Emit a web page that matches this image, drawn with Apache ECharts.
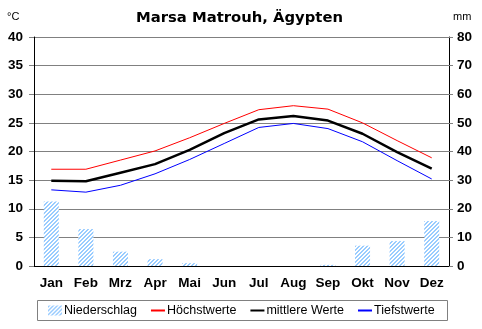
<!DOCTYPE html>
<html><head><meta charset="utf-8">
<script src="https://cdn.jsdelivr.net/npm/echarts@6/dist/echarts.min.js"></script>
<style>html,body{margin:0;padding:0;background:#fff}#c{width:482px;height:329px}</style>
</head><body><div id="c"></div>
<script>
const months = ['Jan','Feb','Mrz','Apr','Mai','Jun','Jul','Aug','Sep','Okt','Nov','Dez'];
const precipitation = [22.5, 12.9, 5.0, 2.4, 1.0, 0, 0, 0, 0.4, 7.1, 8.7, 15.7];
const tempMax = [16.9, 16.9, 18.5, 20.1, 22.4, 24.9, 27.3, 28.0, 27.4, 25.0, 21.9, 18.9];
const tempMean = [14.9, 14.8, 16.3, 17.8, 20.3, 23.2, 25.6, 26.2, 25.4, 23.1, 19.9, 17.0];
const tempMin = [13.3, 12.9, 14.1, 16.1, 18.6, 21.4, 24.2, 24.9, 24.0, 21.7, 18.4, 15.2];

const pc = document.createElement('canvas'); pc.width = 4; pc.height = 4;
const ctx = pc.getContext('2d');
ctx.fillStyle = '#ffffff'; ctx.fillRect(0, 0, 4, 4);
ctx.fillStyle = '#99ccff';
for (let y = 0; y < 4; y++) for (let x = 0; x < 4; x++) if ((x + y) % 4 < 2) ctx.fillRect(x, y, 1, 1);
const hatch = { image: pc, repeat: 'repeat' };

const lbl = { color: '#000', fontFamily: 'Liberation Sans', fontWeight: 'bold', fontSize: 13.5 };
const chart = echarts.init(document.getElementById('c'), null, { renderer: 'canvas' });
chart.setOption({
  animation: false,
  backgroundColor: '#fff',
  title: { text: 'Marsa Matrouh, Ägypten', left: 131, top: 6,
    textStyle: { fontFamily: 'DejaVu Sans', fontWeight: 'bold', fontSize: 14.8, color: '#000' } },
  graphic: [
    { type: 'text', left: 7, top: 11, style: { text: '°C', font: '11px Liberation Sans', fill: '#000' } },
    { type: 'text', left: 453, top: 11, style: { text: 'mm', font: '11px Liberation Sans', fill: '#000' } },
    { type: 'rect', shape: { x: 37.5, y: 300.5, width: 410, height: 20 }, style: { fill: 'none', stroke: '#808080', lineWidth: 1 }, silent: true }
  ],
  grid: { left: 34, right: 33, top: 37, bottom: 63 },
  legend: {
    left: 48, top: 304, padding: 0, itemWidth: 14, itemHeight: 10, itemGap: 13,
    textStyle: { fontFamily: 'Liberation Sans', fontSize: 12.5, color: '#000', padding: [0, 0, 0, -3] },
    itemStyle: { borderWidth: 0 },
    data: [
      { name: 'Niederschlag', icon: 'rect' },
      { name: 'Höchstwerte', itemStyle: { opacity: 0 } },
      { name: 'mittlere Werte', itemStyle: { opacity: 0 } },
      { name: 'Tiefstwerte', itemStyle: { opacity: 0 } }
    ]
  },
  xAxis: {
    type: 'category', data: months,
    axisLine: { lineStyle: { color: '#000', width: 1 } },
    axisTick: { length: 4, lineStyle: { color: '#000' } },
    axisLabel: Object.assign({ margin: 10 }, lbl),
    splitLine: { show: false }
  },
  yAxis: [
    { type: 'value', min: 0, max: 40, interval: 5,
      axisLine: { show: true, lineStyle: { color: '#000' } },
      axisTick: { show: true, length: 5, lineStyle: { color: '#808080' } },
      axisLabel: Object.assign({ margin: 11 }, lbl),
      splitLine: { show: true, lineStyle: { color: '#808080', width: 1 } } },
    { type: 'value', min: 0, max: 80, interval: 10, position: 'right',
      axisLine: { show: true, lineStyle: { color: '#000' } },
      axisTick: { show: true, length: 4, lineStyle: { color: '#808080' } },
      axisLabel: Object.assign({ margin: 8 }, lbl),
      splitLine: { show: false } }
  ],
  series: [
    { name: 'Niederschlag', type: 'bar', yAxisIndex: 1, data: precipitation, barWidth: 15,
      itemStyle: { color: hatch } },
    { name: 'Höchstwerte', type: 'line', data: tempMax, symbol: 'none', color: '#ff0000',
      lineStyle: { color: '#ff0000', width: 1 } },
    { name: 'mittlere Werte', type: 'line', data: tempMean, symbol: 'none', color: '#000',
      lineStyle: { color: '#000', width: 2.5 } },
    { name: 'Tiefstwerte', type: 'line', data: tempMin, symbol: 'none', color: '#0000ff',
      lineStyle: { color: '#0000ff', width: 1 } }
  ]
});
</script></body></html>
